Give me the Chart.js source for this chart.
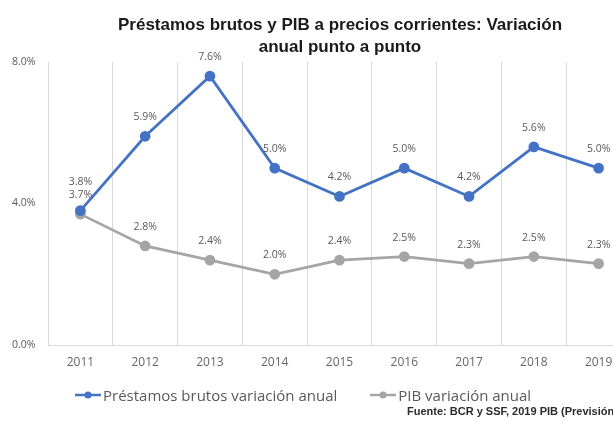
<!DOCTYPE html>
<html lang="es">
<head>
<meta charset="utf-8">
<script src="https://cdn.jsdelivr.net/npm/chart.js@4.4.0/dist/chart.umd.min.js"></script>
<style>
  html, body { margin: 0; padding: 0; background: #fff; overflow: hidden; }
  #wrap { position: relative; width: 613px; height: 421px; overflow: hidden; }
  #box { position: absolute; left: 0; top: 0; width: 680px; height: 421px; }
  #titulo {
    position: absolute; left: 0; top: 14px; width: 680px; text-align: center;
    font: bold 17px "Liberation Sans", Arial, sans-serif; color: #1a1a1a; line-height: 22px;
  }
  #leyenda {
    position: absolute; left: 75px; top: 382px; white-space: nowrap;
    font: 15px "Open Sans", sans-serif; color: #595959;
  }
  #leyenda span { display: inline-block; vertical-align: middle; }
  #leyenda canvas { vertical-align: middle; margin-right: 2px; }
  #leyenda .item + .item { margin-left: 33px; }
  #fuente {
    position: absolute; left: 407px; top: 405px; white-space: nowrap;
    font: bold 11px "Liberation Sans", Arial, sans-serif; color: #2b2b2b;
  }
</style>
</head>
<body>
<div id="wrap">
  <div id="box"><canvas id="grafico"></canvas></div>
  <div id="titulo">Préstamos brutos y PIB a precios corrientes: Variación<br>anual punto a punto</div>
  <div id="leyenda"></div>
  <div id="fuente">Fuente: BCR y SSF, 2019 PIB (Previsión)</div>
</div>
<script>
const anios = ["2011", "2012", "2013", "2014", "2015", "2016", "2017", "2018", "2019"];
const prestamos = [3.8, 5.9, 7.6, 5.0, 4.2, 5.0, 4.2, 5.6, 5.0];
const pib = [3.7, 2.8, 2.4, 2.0, 2.4, 2.5, 2.3, 2.5, 2.3];
const nombres = ["Préstamos brutos variación anual", "PIB variación anual"];
const colores = ["#4472C4", "#A5A5A5"];

// legend marker: short line with a dot in the middle
function marcador(color) {
  var c = document.createElement("canvas");
  c.width = 26; c.height = 10;
  var g = c.getContext("2d");
  g.strokeStyle = color; g.lineWidth = 2.5;
  g.beginPath(); g.moveTo(0, 5); g.lineTo(26, 5); g.stroke();
  g.fillStyle = color;
  g.beginPath(); g.arc(13, 5, 3.5, 0, Math.PI * 2); g.fill();
  return c;
}

var ley = document.getElementById("leyenda");
nombres.forEach(function (n, i) {
  var it = document.createElement("span");
  it.className = "item";
  it.appendChild(marcador(colores[i]));
  var t = document.createElement("span");
  t.textContent = n;
  it.appendChild(t);
  ley.appendChild(it);
});

// value labels above each point, first dataset pushed up when they collide
const etiquetas = {
  id: "etiquetas",
  afterDatasetsDraw: function (chart) {
    var ctx = chart.ctx, pos = [];
    chart.data.datasets.forEach(function (ds, i) {
      var meta = chart.getDatasetMeta(i);
      pos[i] = meta.data.map(function (p) { return {x: p.x, y: p.y - 19}; });
    });
    for (var k = 0; k < anios.length; k++) {
      if (Math.abs(pos[0][k].y - pos[1][k].y) < 11) pos[0][k].y = Math.min(pos[0][k].y, pos[1][k].y) - 10;
    }
    ctx.save();
    ctx.font = '10.5px "Open Sans", sans-serif';
    ctx.fillStyle = "#595959";
    ctx.textAlign = "center";
    ctx.textBaseline = "middle";
    chart.data.datasets.forEach(function (ds, i) {
      ds.data.forEach(function (v, k) {
        ctx.fillText(v.toFixed(1) + "%", pos[i][k].x, pos[i][k].y);
      });
    });
    ctx.restore();
  }
};

new Chart(document.getElementById("grafico"), {
  type: "line",
  data: {
    labels: anios,
    datasets: [prestamos, pib].map(function (serie, i) {
      return {
        label: nombres[i],
        data: serie,
        borderColor: colores[i],
        backgroundColor: colores[i],
        borderWidth: 2.75,
        pointRadius: 4,
        pointHoverRadius: 4,
        pointStyle: "circle",
        tension: 0
      };
    })
  },
  options: {
    responsive: true,
    maintainAspectRatio: false,
    animation: false,
    layout: {padding: {left: 12, right: 49, top: 62, bottom: 46}},
    plugins: {
      title: {display: false},
      tooltip: {enabled: false},
      legend: {display: false}
    },
    scales: {
      x: {
        offset: true,
        grid: {offset: true, color: "#D9D9D9", drawTicks: false},
        border: {color: "#D9D9D9"},
        ticks: {color: "#666666", padding: 10, font: {family: "'Open Sans', sans-serif", size: 12}},
        afterFit: function (s) { s.height = 30; }
      },
      y: {
        min: 0, max: 8,
        grid: {display: false},
        border: {display: false},
        ticks: {stepSize: 4, color: "#595959", crossAlign: "far", font: {family: "'Open Sans', sans-serif", size: 10.5},
          callback: function (v) { return v.toFixed(1) + "%"; }},
        afterFit: function (s) { s.width = 36; }
      }
    }
  },
  plugins: [etiquetas]
});
</script>
</body>
</html>
